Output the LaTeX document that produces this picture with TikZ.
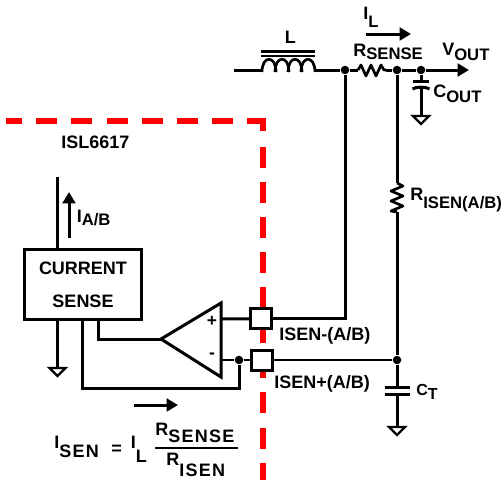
\documentclass[tikz,border=0pt]{standalone}
\usepackage{fontspec}
\setmainfont{Liberation Sans}
\usetikzlibrary{arrows.meta}

% subscript: optional drop, then text
\newcommand{\labsub}[2][2.25pt]{\raisebox{-#1}{\fontsize{12.5}{12}\selectfont #2}}
\newcommand{\widesub}[2][2.25pt]{\raisebox{-#1}{\fontsize{13.5}{12}\selectfont\addfontfeatures{LetterSpace=7}#2}}

\begin{document}
\begin{tikzpicture}[x=0.75pt,y=-0.75pt]
% ---------------------------------------------------------
% Styles
% ---------------------------------------------------------
\tikzset{
  wire/.style={line width=2.25pt, line join=miter},
  thin wire/.style={line width=2pt},
  red dash/.style={red, line width=4.5pt, dash pattern=on 15.75pt off 10.6pt},
  flow arrow/.style={wire, -{Triangle[length=8.5pt,width=9.5pt]}},
  junction/.style={circle, fill=black, inner sep=0pt, minimum size=6.4pt},
  pad box/.style={draw=black, fill=white, line width=2.25pt, inner sep=0pt,
    minimum width=15.75pt, minimum height=15pt},
  sense box/.style={draw=black, line width=2.25pt, align=center, inner sep=0pt,
    font=\fontsize{13.5}{24.5}\selectfont\bfseries,
    minimum width=87.75pt, minimum height=52.9pt},
  lab/.style={anchor=base west, inner sep=0pt,
    font=\fontsize{13.5}{16}\selectfont\bfseries},
  ground/.pic={\draw[line width=1.8pt, fill=white] (-8,0) -- (8,0) -- (0,8) -- cycle;}
}
\useasboundingbox (0,0) rectangle (503,480);

% =========================================================
% 1) RED BOUNDARY
% =========================================================
\draw[red dash] (233,120.7) -- (6,120.7);
\draw[red, line width=4.5pt, line join=miter] (247,120.7) -- (263,120.7) -- (263,131);
\draw[red dash] (263,146.5) -- (263,480);

% =========================================================
% 2) OUTPUT RAIL
% =========================================================
\coordinate (railIn) at (234,70);
\coordinate (indL) at (262,70);
\coordinate (indR) at (314,70);
\coordinate (rsenL) at (358,70);
\coordinate (rsenR) at (386,70);
\coordinate (railOut) at (469,70);
\node[junction] (tapMinus) at (345,70) {};
\node[junction] (tapPlus) at (397,70) {};
\node[junction] (tapCout) at (421,70) {};

\draw[wire] (railIn) -- (indL);
\draw[wire] (indR) -- (tapMinus) -- (rsenL);
\draw[wire] (rsenR) -- (tapPlus) -- (tapCout);
\draw[flow arrow] (tapCout) -- (railOut);

% inductor with core
\foreach \x in {262,275,288,301} {
  \draw[line width=2pt] (\x,72) .. controls (\x,55) and (\x+14,55) .. (\x+14,72);
}
\draw[wire] (261,51.5) -- (315,51.5);
\draw[line width=1.5pt] (261,55.5) -- (315,55.5);

% sense resistor
\draw[line width=2pt, line join=round] (rsenL) -- ++(3,-5) -- ++(5,11) -- ++(5,-11)
  -- ++(5,11) -- ++(5,-11) -- ++(3,5) -- (rsenR);

% output cap
\coordinate (coutTop) at (421,81.5);
\coordinate (coutBot) at (421,87);
\coordinate (coutGnd) at (421,116);
\draw[wire] (tapCout) -- (coutTop);
\draw[wire] (413,81.5) -- (429,81.5);
\draw[wire] (412.5,89) .. controls (416,86.5) and (426,86.5) .. (429.5,89);
\draw[wire] (coutBot) -- (coutGnd);
\pic at (coutGnd) {ground};

% =========================================================
% 3) FEEDBACK BRANCH
% =========================================================
\coordinate (risenT) at (397,183);
\coordinate (risenB) at (397,212);
\node[junction] (nodeCt) at (397,360) {};
\draw[wire] (tapPlus) -- (risenT);
\draw[line width=2pt, line join=round] (risenT) -- ++(6,3) -- ++(-12,5) -- ++(12,5)
  -- ++(-12,5) -- ++(12,5) -- ++(-12,5) -- (risenB);
\draw[wire] (risenB) -- (nodeCt);

% timing cap
\coordinate (ctTop) at (397,387);
\coordinate (ctBot) at (397,394);
\coordinate (ctGnd) at (397,427);
\draw[wire] (nodeCt) -- (ctTop);
\draw[wire] (385,387) -- (410,387);
\draw[wire] (385,394) -- (410,394);
\draw[wire] (ctBot) -- (ctGnd);
\pic at (ctGnd) {ground};

% =========================================================
% 4) PADS AND AMPLIFIER
% =========================================================
\node[pad box] (padMinus) at (261,318.7) {};
\node[pad box] (padPlus) at (262,360) {};
\coordinate (ampTip) at (161,339);
\coordinate (ampTop) at (221,303);
\coordinate (ampBot) at (221,377);
\coordinate (ampIn1) at (221,319);
\coordinate (ampIn2) at (221,360);
\draw[wire] (ampTip) -- (ampTop) -- (ampBot) -- cycle;
\node[font=\fontsize{13}{13}\selectfont\bfseries, inner sep=0pt] (plusSign) at (212,321.5) {+};
\node[font=\fontsize{13}{13}\selectfont\bfseries, inner sep=0pt] (minusSign) at (212,355.5) {-};
\node[junction] (nodeFb) at (239,360) {};

\draw[wire] (ampIn1) -- (padMinus);
\draw[wire] (padMinus.east) -| (tapMinus);
\draw[thin wire] (ampIn2) -- (nodeFb) -- (padPlus);
\draw[thin wire] (padPlus) -- (nodeCt);

% =========================================================
% 5) CURRENT SENSE BLOCK
% =========================================================
\node[sense box] (sense) at (83,284.5) {CURRENT\\SENSE};
\coordinate (senseIn) at (57.5,177);
\coordinate (senseGnd) at (57.5,368);
\coordinate (senseA) at (98,320);
\coordinate (senseB) at (82.5,320);
\coordinate (loopCorner) at (82.5,388);
\draw[wire] (senseIn) -- (senseIn |- sense.north);
\draw[wire] (senseIn |- sense.south) -- (senseGnd);
\pic at (senseGnd) {ground};
\draw[wire] (senseA) |- (ampTip);
\draw[wire] (senseB) -- (loopCorner) -| (nodeFb);

% =========================================================
% 6) FLOW ARROWS
% =========================================================
\coordinate (arrIaA) at (69,238);
\coordinate (arrIaB) at (69,192);
\coordinate (arrIlA) at (366,34);
\coordinate (arrIlB) at (411,34);
\coordinate (arrIsA) at (134,405);
\coordinate (arrIsB) at (178,405);
\draw[flow arrow] (arrIaA) -- (arrIaB);
\draw[flow arrow] (arrIlA) -- (arrIlB);
\draw[flow arrow] (arrIsA) -- (arrIsB);

% =========================================================
% 7) LABELS
% =========================================================
\node[lab] (labL) at (284.5,43) {L};
\node[lab] (labIl) at (363,19) {I\labsub[6pt]{L}};
\node[lab] (labRsense) at (353,56) {R\labsub{SENSE}};
\node[lab] (labVout) at (442,55) {V\labsub[3.75pt]{OUT}};
\node[lab] (labCout) at (433,97) {C\labsub[3.75pt]{OUT}};
\node[lab] (labRisen) at (410,200) {R\labsub[6pt]{ISEN(A/B)}};
\node[lab] (labChip) at (61,148) {ISL6617};
\node[lab] (labIab) at (76.5,222) {I\labsub{A/B}};
\node[lab] (labPadMinus) at (279,340) {ISEN-(A/B)};
\node[lab] (labPadPlus) at (274,388) {ISEN+(A/B)};
\node[lab] (labCt) at (416,395) {\fontsize{12}{12}\selectfont C\raisebox{-3pt}{T}};

% formula
\node[lab] (eqLeft) at (54,448) {I\widesub[6.75pt]{SEN}};
\node[lab] (eqEq) at (111,454) {=};
\node[lab] (eqIl) at (130.5,448) {I\widesub[10.5pt]{L}};
\node[lab] (eqNum) at (155,435) {R\widesub[5.25pt]{SENSE}};
\node[lab] (eqDen) at (166,465) {R\widesub[8.25pt]{ISEN}};
\draw[line width=2pt] (155,448) -- (237.5,448);

\end{tikzpicture}
\end{document}
